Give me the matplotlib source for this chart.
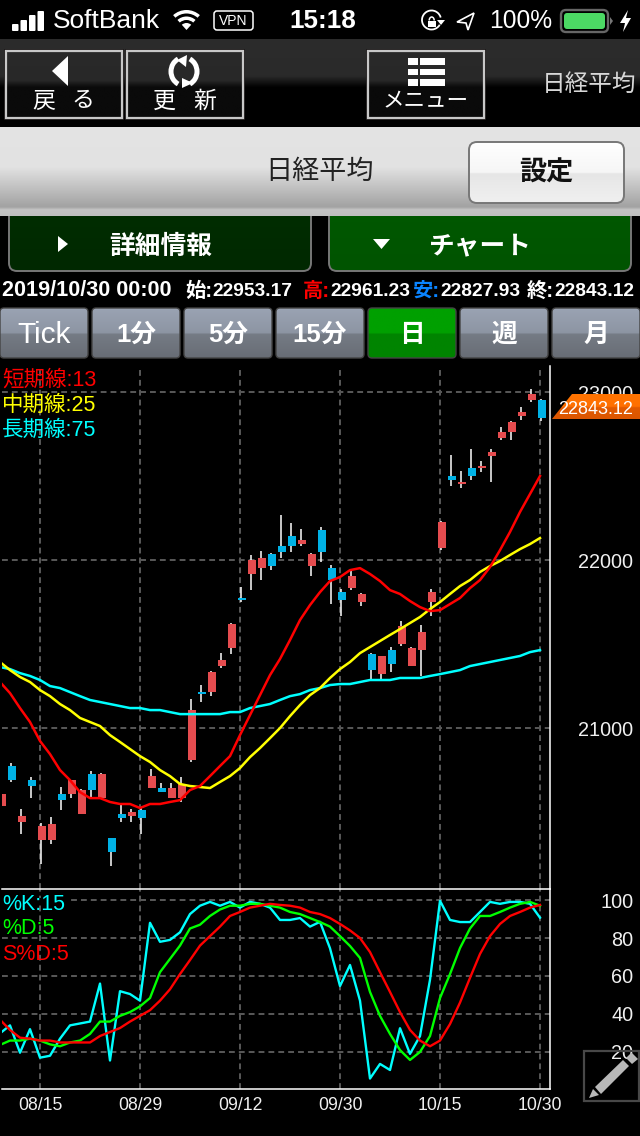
import numpy as np
import matplotlib
matplotlib.use("Agg")
import matplotlib.pyplot as plt
from matplotlib.patches import FancyBboxPatch, Polygon, Rectangle, Wedge, Circle, Arc

FONT = ['Liberation Sans', 'Noto Sans CJK JP', 'DejaVu Sans']
plt.rcParams['font.family'] = FONT

# ---------- data ----------
days = list(range(55))
date_ticks = [4, 14, 24, 34, 44, 54]
date_labels = ['08/15', '08/29', '09/12', '09/30', '10/15', '10/30']

opens = [20536,20774,20441,20690,20333,20333,20607,20607,20488,20726,20583,20345,20488,20476,20512,20643,20643,20583,20583,20810,
         21214,21214,21369,21476,21774,21917,21952,22036,22083,22143,22095,21964,22178,21952,21809,21833,21750,21440,21321,21464,
         21500,21369,21464,21750,22071,22500,22452,22548,22548,22619,22726,22762,22857,22952,22953.17]
closes = [20607,20690,20476,20655,20417,20429,20571,20690,20631,20631,20726,20262,20464,20500,20464,20714,20619,20643,20667,21107,
          21202,21333,21405,21619,21762,22000,22012,21964,22048,22083,22119,22036,22048,21881,21762,21905,21798,21345,21429,21381,
          21607,21476,21571,21809,22226,22476,22464,22500,22559,22643,22762,22821,22881,22988,22843.12]
highs = [20607,20792,20518,20708,20435,20470,20649,20690,20637,20744,20732,20345,20548,20518,20524,20756,20673,20673,20708,21173,
         21256,21339,21446,21625,21839,22030,22054,22042,22268,22220,22184,22042,22196,21970,21827,21934,21804,21446,21429,21482,
         21637,21482,21613,21827,22232,22625,22530,22661,22589,22661,22792,22827,22911,23018,22961.23]
lows = [20536,20679,20369,20583,20191,20310,20512,20583,20488,20589,20583,20179,20441,20441,20369,20643,20619,20583,20560,20798,
        21155,21190,21357,21440,21750,21821,21881,21940,22012,22048,22083,21905,21988,21738,21667,21821,21726,21292,21292,21333,
        21488,21369,21310,21667,22059,22440,22428,22476,22524,22464,22714,22714,22833,22940,22827.93]

ma_short = [21274,21208,21119,21036,20923,20845,20750,20690,20619,20583,20583,20560,20548,20548,20524,20548,20548,20560,20571,20631,
            20655,20714,20774,20833,20958,21077,21196,21315,21411,21524,21643,21732,21809,21875,21899,21940,21952,21917,21875,21821,
            21798,21756,21720,21696,21702,21738,21774,21833,21881,21958,22059,22167,22286,22393,22500]
ma_mid = [21393,21345,21304,21274,21226,21190,21143,21107,21060,21036,21012,20958,20917,20875,20833,20798,20750,20714,20667,20655,
          20649,20643,20679,20714,20762,20827,20881,20940,21000,21071,21137,21196,21238,21298,21351,21393,21446,21482,21518,21554,
          21589,21625,21661,21708,21750,21798,21845,21881,21929,21964,21994,22030,22065,22095,22131]
ma_long = [21363,21351,21327,21310,21286,21250,21238,21214,21190,21167,21155,21143,21131,21119,21119,21107,21107,21095,21083,21083,
           21083,21083,21083,21095,21095,21119,21131,21143,21167,21190,21202,21226,21238,21256,21262,21262,21274,21286,21286,21286,
           21298,21298,21298,21310,21321,21333,21345,21369,21381,21393,21405,21417,21429,21452,21464]

stoch_k = [29.8,34,19.6,32,17,18,27,34,35,36,56,15.5,52,50.5,47,88,78,79,83,92.6,97,99,97,99,96,99,98,96,89.5,89.5,90.5,86,88.5,
           74.6,54.7,65.8,47,6,13.7,10.5,32.5,19,28.4,58,99.6,89.5,88.4,88.4,93.7,99,98,99,99,98,90.7]
stoch_d = [23.7,26,26,27,26,24,23,25,26,29.5,36,36,39,41,44,48.4,62,69,76,85,87,91.6,95,97,97,98,98,97,96,93.7,92.6,90.5,88.4,
           86,81,75.8,69.5,51.6,39,29.5,21,15.8,20,28.4,48.4,61,74.7,85,91.6,91.6,93.7,96,98,99,97]
stoch_sd = [37,31.6,27.5,27,26,26,25,25,25,25,28.4,30.5,32.6,36,39,42,47,53,61,68.4,76,81,86,91.6,93.7,96,97,98,97.4,97,96,93.7,92.6,
            90.5,87.4,84,80,72.6,62,51.6,41,31.6,26,23,26,34.7,46,59,71.6,81,87.4,91.6,93.7,96,97.4]

price_ticks = [21000, 22000, 23000]
price_labels = ['21000', '22000', '23000']
stoch_ticks = [20, 40, 60, 80, 100]
stoch_labels = ['20', '40', '60', '80', '100']

RED, BLUE = '#e54c4f', '#00b2e6'
GRID = '#565656'
W, H = 640, 1136

fig = plt.figure(figsize=(6.4, 11.36), dpi=100, facecolor='black')


def pixel_axes(z):
    a = fig.add_axes([0, 0, 1, 1], zorder=z)
    a.set_xlim(0, W); a.set_ylim(H, 0)
    a.axis('off')
    a.patch.set_alpha(0)
    return a


def grad(a, x0, y0, x1, y1, stops, clip=None, z=1):
    ys = np.linspace(0, 1, 256)
    pos = [s[0] for s in stops]
    cols = np.array([matplotlib.colors.to_rgb(s[1]) for s in stops])
    arr = np.stack([np.interp(ys, pos, cols[:, i]) for i in range(3)], axis=1)[:, None, :]
    im = a.imshow(arr, extent=(x0, x1, y1, y0), origin='upper', aspect='auto', interpolation='bilinear', zorder=z)
    if clip is not None:
        clip.set_transform(a.transData)
        im.set_clip_path(clip)
    a.set_xlim(0, W); a.set_ylim(H, 0)
    return im


def rbox(x0, y0, x1, y1, r):
    return FancyBboxPatch((x0 + r, y0 + r), x1 - x0 - 2 * r, y1 - y0 - 2 * r,
                          boxstyle=f'round,pad={r},rounding_size={r}')


def rounded(a, x0, y0, x1, y1, r, stops, edge=None, lw=1.5, z=1):
    grad(a, x0, y0, x1, y1, stops, clip=rbox(x0, y0, x1, y1, r), z=z)
    if edge:
        p = rbox(x0, y0, x1, y1, r)
        p.set(facecolor='none', edgecolor=edge, linewidth=lw, zorder=z + 0.1)
        a.add_patch(p)


ui = pixel_axes(0)


def T(a, x, y, s, size, color='white', ha='center', weight='normal'):
    # text centre is nudged to sit where the glyphs, not the font box, are centred
    return a.text(x, y + 2, s, fontsize=size, color=color, ha=ha, va='center', fontweight=weight, family=FONT, zorder=6)


# ---------- status bar ----------
for x, h in zip([12, 20.5, 29, 37.5], [7, 11, 16, 20]):
    ui.add_patch(FancyBboxPatch((x + 1, 31 - h + 1), 4.5, h - 2, boxstyle='round,pad=1', fc='white', ec='none', zorder=3))
T(ui, 53, 19.5, 'SoftBank', 19, ha='left')
for r, wd in [(20, 3.5), (13.5, 3.5)]:
    ui.add_patch(Wedge((186.5, 30), r, 228, 312, width=wd, fc='white', ec='none', zorder=3))
ui.add_patch(Wedge((186.5, 30), 7, 228, 312, fc='white', ec='none', zorder=3))
p = rbox(214, 11, 253, 30, 3); p.set(fc='none', ec='white', lw=1.1, zorder=3); ui.add_patch(p)
T(ui, 233.5, 18.8, 'VPN', 10)
T(ui, 323, 19.5, '15:18', 18.7, weight='bold')
ui.add_patch(Arc((431.5, 20), 19, 19, theta1=30, theta2=345, ec='white', lw=1.3, zorder=3))
ui.add_patch(Polygon([(437, 20), (445, 20), (441, 25)], closed=True, fc='white', ec='none', zorder=3))
ui.add_patch(Rectangle((428, 20.5), 7.5, 6, fc='white', ec='none', zorder=3))
ui.add_patch(Arc((431.7, 20.5), 5, 7, theta1=180, theta2=360, ec='white', lw=1.1, zorder=3))
ui.add_patch(Polygon([(457, 22), (474, 13), (468, 30), (466, 23)], closed=True, fc='none', ec='white', lw=1.2, zorder=3))
T(ui, 489, 19, '100%', 17.7, ha='left')
p = rbox(561, 10, 608, 32, 5); p.set(fc='none', ec='#666666', lw=1.7, zorder=3); ui.add_patch(p)
p = rbox(564, 13, 605, 29, 3); p.set(fc='#4cd964', ec='none', zorder=3); ui.add_patch(p)
ui.add_patch(Polygon([(610, 17), (613, 21), (610, 25)], closed=True, fc='#777777', ec='none', zorder=3))
ui.add_patch(Polygon([(628, 10), (620, 23), (625, 23), (623, 32), (631, 18), (626, 18)], closed=True, fc='white', ec='none', zorder=3))

# ---------- nav bar ----------
grad(ui, 0, 39, 640, 127, [(0, '#2c2c2c'), (0.42, '#2a2a2a'), (0.55, '#000000'), (1, '#000000')])
for x0, x1 in [(6, 122), (127, 243), (368, 484)]:
    ui.add_patch(Rectangle((x0 - 2, 49), x1 - x0 + 4, 71, fc='#1c1818', ec='none', zorder=1.5))
    grad(ui, x0, 51, x1, 118, [(0, '#2a2a2a'), (0.44, '#282828'), (0.54, '#0a0a0a'), (1, '#0a0a0a')], z=1.6)
    ui.add_patch(Rectangle((x0, 51), x1 - x0, 67, fc='none', ec='#c8c8c8', lw=1.6, zorder=2))
ui.add_patch(Polygon([(52, 71), (68, 56), (68, 86)], closed=True, fc='white', ec='none', zorder=3))
T(ui, 44, 99, '戻', 16.5); T(ui, 83, 99, 'る', 16.5)
ui.add_patch(Arc((184, 71.5), 26, 28, theta1=115, theta2=245, ec='white', lw=3.6, zorder=3))
ui.add_patch(Arc((184, 71.5), 26, 28, theta1=-65, theta2=65, ec='white', lw=3.6, zorder=3))
ui.add_patch(Polygon([(177, 60), (187, 55), (186, 67)], closed=True, fc='white', ec='none', zorder=3))
ui.add_patch(Polygon([(182, 78), (182, 88), (193, 83)], closed=True, fc='white', ec='none', zorder=3))
T(ui, 164, 99, '更', 16.5); T(ui, 205, 99, '新', 16.5)
for y0, y1 in [(58, 65), (69, 75), (79, 86)]:
    ui.add_patch(Rectangle((408, y0), 10, y1 - y0, fc='white', ec='none', zorder=3))
    ui.add_patch(Rectangle((420, y0), 25, y1 - y0, fc='white', ec='none', zorder=3))
T(ui, 426, 100, 'メニュー', 15.5)
T(ui, 589, 83, '日経平均', 17, color='#d8d8d8')

# ---------- green buttons ----------
rounded(ui, 9, 205, 311, 271, 8, [(0, '#002e00'), (1, '#002800')], edge='#777777', lw=1.4)
rounded(ui, 329, 205, 631, 271, 8, [(0, '#005800'), (1, '#005400')], edge='#777777', lw=1.4)
ui.add_patch(Polygon([(58, 236), (68, 244), (58, 252)], closed=True, fc='white', ec='none', zorder=3))
ui.add_patch(Polygon([(373, 239), (390, 239), (381.5, 249)], closed=True, fc='white', ec='none', zorder=3))
T(ui, 161, 244.5, '詳細情報', 18.5, weight='bold')
T(ui, 480, 244.5, 'チャート', 18.5, weight='bold')

# ---------- title bar ----------
grad(ui, 0, 127, 640, 216, [(0, '#e4e4e4'), (0.45, '#e2e2e2'), (0.9, '#a2a2a2'), (0.93, '#c4c4c4'), (1, '#c0c0c0')], z=2.5)
T(ui, 320, 170, '日経平均', 19.5, color='#222222')
rounded(ui, 469, 142, 624, 203, 8, [(0, '#ffffff'), (0.5, '#f6f6f6'), (0.52, '#e6e6e6'), (1, '#f0f0f0')], edge='#777777', lw=1.4, z=3)
T(ui, 546, 171.5, '設定', 19.5, color='#111111', weight='bold')

# ---------- OHLC row ----------
INFO = 14.6
T(ui, 2, 289, '2019/10/30 00:00', 15.6, ha='left', weight='bold')
T(ui, 185, 289, '始:', INFO, ha='left', weight='bold')
T(ui, 212, 289, '22953.17', 13.8, ha='left', weight='bold')
T(ui, 303, 289, '高:', INFO, color='#ff0000', ha='left', weight='bold')
T(ui, 330, 289, '22961.23', 13.8, ha='left', weight='bold')
T(ui, 413, 289, '安:', INFO, color='#0a84ff', ha='left', weight='bold')
T(ui, 440, 289, '22827.93', 13.8, ha='left', weight='bold')
T(ui, 527, 289, '終:', INFO, ha='left', weight='bold')
T(ui, 554, 289, '22843.12', 13.8, ha='left', weight='bold')

# ---------- period tabs ----------
tabs = ['Tick', '1分', '5分', '15分', '日', '週', '月']
for i, t in enumerate(tabs):
    x0 = 92 * i
    x1 = x0 + 88
    if t == '日':
        st = [(0, '#00a000'), (0.5, '#00a000'), (0.52, '#008400'), (1, '#008400')]
    else:
        st = [(0, '#9aa3b3'), (0.5, '#8d95a3'), (0.52, '#757b85'), (1, '#686d75')]
    rounded(ui, x0, 308, x1, 358, 4, st, edge='#444444', lw=1.0)
    T(ui, (x0 + x1) / 2, 333, t, 21.5 if t == 'Tick' else 18.5, weight='normal' if t == 'Tick' else 'bold')

# ---------- price chart ----------
px = lambda v: v / W
py = lambda v: 1 - v / H
ax = fig.add_axes([px(2), py(889), px(548), (889 - 366) / H], zorder=1, facecolor='black')
ax2 = fig.add_axes([px(2), py(1089), px(548), (1089 - 889) / H], zorder=1, facecolor='black', sharex=ax)
ax.set_xlim(0.2, 55)
ax.set_ylim(20042, 23155)
ax2.set_ylim(0.5, 105.8)

x = np.array(days, dtype=float)
o, c = np.array(opens), np.array(closes)
colors = [RED if cc >= oo else BLUE for oo, cc in zip(o, c)]
ax.set_axisbelow(True)
ax.vlines(x + 0.05, lows, highs, color='white', lw=1.1, zorder=2)
ax.bar(x + 0.2, np.maximum(np.abs(c - o), 8), bottom=np.minimum(o, c), width=0.8, color=colors, zorder=3, linewidth=0)
ax.plot(x, ma_long, color='#00ffff', lw=1.8, zorder=4, solid_joinstyle='round')
ax.plot(x, ma_mid, color='#ffff00', lw=1.8, zorder=5, solid_joinstyle='round')
ax.plot(x, ma_short, color='#ff0000', lw=1.8, zorder=6, solid_joinstyle='round')

ax2.set_axisbelow(True)
ax2.plot(x, stoch_k, color='#00ffff', lw=1.7, zorder=4)
ax2.plot(x, stoch_d, color='#00ff00', lw=1.7, zorder=5)
ax2.plot(x, stoch_sd, color='#ff0000', lw=1.7, zorder=6)

for a, ticks, labels in [(ax, price_ticks, price_labels), (ax2, stoch_ticks, stoch_labels)]:
    a.set_xticks(date_ticks)
    a.set_yticks(ticks)
    a.set_yticklabels(labels)
    a.grid(True, color=GRID, lw=1.45, linestyle=(0, (2.9, 2.0)))
    a.tick_params(axis='both', length=0)
    a.tick_params(axis='y', labelleft=False, labelright=True, labelcolor='#f0f0f0', labelsize=14.3, pad=60)
    for lb in a.get_yticklabels():
        lb.set_ha('right')
    for s in a.spines.values():
        s.set_visible(False)
    a.spines['right'].set_visible(True)
    a.spines['right'].set_color('white')
    a.spines['right'].set_linewidth(1.1)
ax.tick_params(axis='x', labelbottom=False)
ax2.set_xticklabels(date_labels)
ax2.tick_params(axis='x', labelcolor='#f0f0f0', labelsize=12.7, pad=5.5)
ax2.spines['top'].set_visible(True)
ax2.spines['bottom'].set_visible(True)
for nm in ('top', 'bottom'):
    ax2.spines[nm].set_color('white')
    ax2.spines[nm].set_linewidth(1.1)

# ---------- overlay ----------
ov = pixel_axes(5)
ov.add_patch(Rectangle((2, 898), 67, 4.5, fc='black', ec='none', zorder=1))
T(ov, 2, 378, '短期線:13', 15.5, color='#ff0000', ha='left')
T(ov, 2, 403, '中期線:25', 15.5, color='#ffff00', ha='left')
T(ov, 2, 428, '長期線:75', 15.5, color='#00ffff', ha='left')
T(ov, 2, 902, '%K:15', 15.5, color='#00ffff', ha='left')
T(ov, 2, 927, '%D:5', 15.5, color='#00ff00', ha='left')
T(ov, 2, 952, 'S%D:5', 15.5, color='#ff0000', ha='left')

tag = Polygon([(572, 394), (640, 394), (640, 419), (552, 419)], closed=True)
grad(ov, 552, 394, 640, 419, [(0, '#ff7400'), (0.5, '#ff7000'), (0.54, '#e25a00'), (1, '#dc5600')], clip=tag)
T(ov, 633, 408, '22843.12', 13, ha='right')

ov.add_patch(Rectangle((583.5, 1051), 55, 50, fc='none', ec='#484848', lw=1.6, zorder=3))
ov.add_patch(Polygon([(595, 1087), (623, 1060), (629, 1066), (601, 1094)], closed=True, fc='#b8b8b8', ec='none', zorder=4))
ov.add_patch(Polygon([(626, 1058), (631, 1053), (632, 1053), (638, 1059), (632, 1064)], closed=True, fc='#b8b8b8', ec='none', zorder=4))
ov.add_patch(Polygon([(589, 1098), (593, 1089), (599, 1095)], closed=True, fc='#b8b8b8', ec='none', zorder=4))

fig.savefig('out.png', dpi=100, facecolor='black')
